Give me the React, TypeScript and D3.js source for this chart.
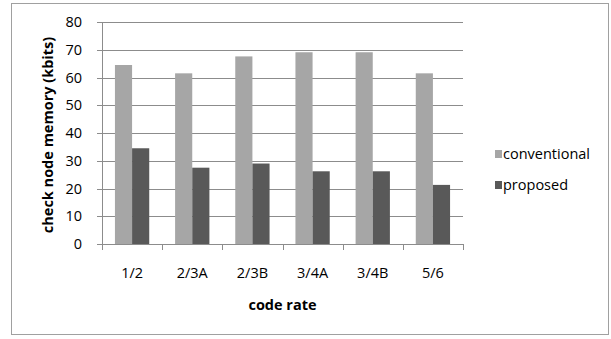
import React from "react";
import * as d3 from "d3";

const categories = ["1/2", "2/3A", "2/3B", "3/4A", "3/4B", "5/6"];
const conventional = [64.5, 61.5, 67.6, 69.1, 69.1, 61.5];
const proposed = [34.5, 27.5, 29.0, 26.2, 26.2, 21.3];
const yTicks = [0, 10, 20, 30, 40, 50, 60, 70, 80];
const seriesNames = ["conventional", "proposed"];
const seriesColors = ["#a6a6a6", "#595959"];

const W = 611;
const H = 339;
const plot = { left: 102, right: 463, top: 22, bottom: 244 };
const font = "'Open Sans', sans-serif";
const fs = 14.5;

export default function App() {
  const x = d3.scaleBand<string>().domain(categories).range([plot.left, plot.right]).paddingInner(0).paddingOuter(0);
  const y = d3.scaleLinear().domain([0, 80]).range([plot.bottom, plot.top]);
  const barW = x.bandwidth() * 0.285;
  const series = [conventional, proposed];

  return (
    <svg width={W} height={H} style={{ position: "absolute", left: 0, top: 0 }}>
      <rect x={0} y={0} width={W} height={H} fill="#fff" />
      <rect x={11.5} y={3.5} width={597} height={331} fill="#fff" stroke="#a0a0a0" strokeWidth={1} />
      {/* gridlines */}
      {yTicks.map((t) => (
        <line key={"g" + t} x1={plot.left - 5} x2={plot.right} y1={Math.round(y(t)) + 0.5} y2={Math.round(y(t)) + 0.5} stroke="#8c8c8c" strokeWidth={1} />
      ))}
      {/* bars */}
      {categories.map((c, i) => {
        const cx = x(c)! + x.bandwidth() / 2;
        return series.map((s, k) => (
          <rect
            key={c + k}
            x={cx - barW + k * barW}
            y={y(s[i])}
            width={barW}
            height={y(0) - y(s[i])}
            fill={seriesColors[k]}
          />
        ));
      })}
      {/* axes */}
      <line x1={plot.left + 0.5} x2={plot.left + 0.5} y1={plot.top} y2={plot.bottom} stroke="#8c8c8c" />
      <line x1={plot.left} x2={plot.right} y1={Math.round(y(0)) + 0.5} y2={Math.round(y(0)) + 0.5} stroke="#8c8c8c" />
      {categories.concat([""]).map((_, i) => {
        const xx = Math.round(plot.left + i * x.bandwidth()) + 0.5;
        return <line key={"t" + i} x1={xx} x2={xx} y1={plot.bottom} y2={plot.bottom + 6} stroke="#8c8c8c" />;
      })}
      {yTicks.map((t) => (
        <text key={"yl" + t} x={82} y={y(t)} dy="0.35em" textAnchor="end" fontFamily={font} fontSize={fs} fill="#000">
          {t}
        </text>
      ))}
      {categories.map((c) => (
        <text key={"xl" + c} x={x(c)! + x.bandwidth() / 2} y={273} dy="0.35em" textAnchor="middle" fontFamily={font} fontSize={fs} fill="#000">
          {c}
        </text>
      ))}
      <text x={(plot.left + plot.right) / 2} y={305} dy="0.35em" textAnchor="middle" fontFamily={font} fontSize={fs} fontWeight="bold" fill="#000">
        code rate
      </text>
      <text
        transform={`translate(48,${(plot.top + plot.bottom) / 2 + 2}) rotate(-90)`}
        textAnchor="middle"
        dy="0.35em"
        fontFamily={font}
        fontSize={fs}
        fontWeight="bold"
        fill="#000"
      >
        check node memory (kbits)
      </text>
      {/* legend */}
      {seriesNames.map((n, k) => (
        <g key={n} transform={`translate(495,${154 + k * 31})`}>
          <rect x={0} y={-4} width={7} height={8} fill={seriesColors[k]} />
          <text x={8} y={0} dy="0.35em" fontFamily={font} fontSize={fs} fill="#000">
            {n}
          </text>
        </g>
      ))}
    </svg>
  );
}
